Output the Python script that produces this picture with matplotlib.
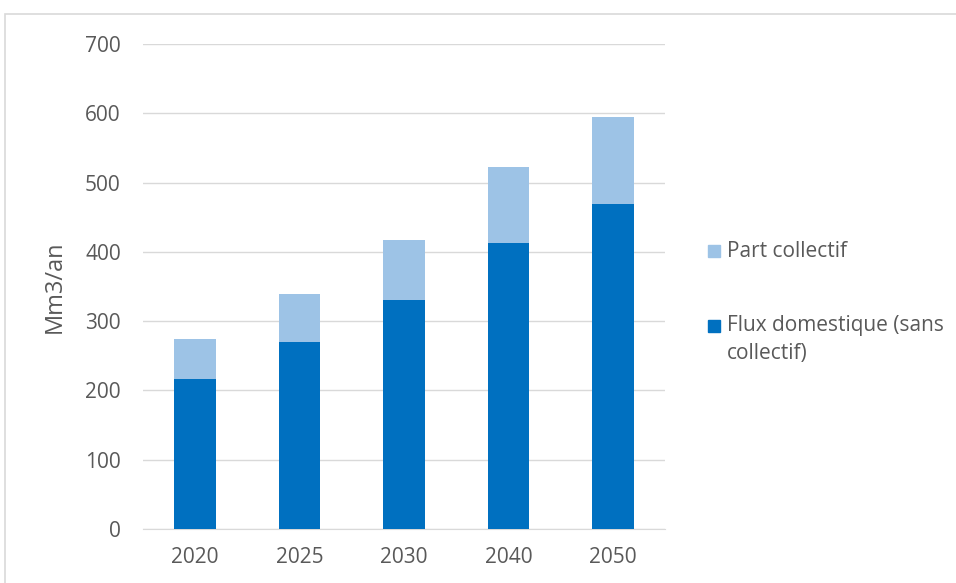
import matplotlib.pyplot as plt
from matplotlib.patches import Rectangle

years = ['2020', '2025', '2030', '2040', '2050']
flux_domestique = [217, 270, 330, 413, 469]
part_collectif = [57, 69, 87, 109, 126]

dark = '#0070C0'
light = '#9DC3E6'
grey = '#595959'

plt.rcParams['font.family'] = ['Open Sans', 'DejaVu Sans']

W, H = 956, 583
fig = plt.figure(figsize=(W / 100, H / 100), dpi=100)
ax = fig.add_axes([143 / W, 1 - 529 / H, 522 / W, 485 / H])

# outer chart frame
fig.patches.append(Rectangle((5 / W, -0.05), 1.0, 1 - 14 / H + 0.05,
                             transform=fig.transFigure, fill=False,
                             edgecolor='#d9d9d9', linewidth=1.2))

x = range(len(years))
ax.bar(x, flux_domestique, width=0.4, color=dark, zorder=3)
ax.bar(x, part_collectif, width=0.4, bottom=flux_domestique, color=light, zorder=3)

ax.set_xlim(-0.5, len(years) - 0.5)
ax.set_ylim(0, 700)
ax.set_yticks(range(0, 701, 100))
ax.set_xticks(list(x))
ax.set_xticklabels(years)
ax.grid(axis='y', color='#d9d9d9', linewidth=1, zorder=0)
for s in ax.spines.values():
    s.set_visible(False)
ax.spines['bottom'].set_visible(True)
ax.spines['bottom'].set_color('#d9d9d9')
ax.tick_params(length=0, labelsize=15, colors=grey)
ax.tick_params(axis='x', pad=13)
ax.tick_params(axis='y', pad=16)
ax.set_ylabel('Mm3/an', fontsize=17, color=grey)
ax.yaxis.set_label_coords(-0.1456, 0.5)

# legend, drawn by hand so the square sits on the first line of text
legend = [(light, ['Part collectif'], 251),
          (dark, ['Flux domestique (sans', 'collectif)'], 326)]
for color, lines, ypix in legend:
    fig.patches.append(Rectangle((708 / W, 1 - (ypix + 6) / H), 12 / W, 12 / H,
                                 transform=fig.transFigure, color=color))
    for i, line in enumerate(lines):
        fig.text(727 / W, 1 - (ypix + 27 * i) / H, line, fontsize=15,
                 color=grey, va='center', ha='left')

fig.savefig('out.png', dpi=100)
